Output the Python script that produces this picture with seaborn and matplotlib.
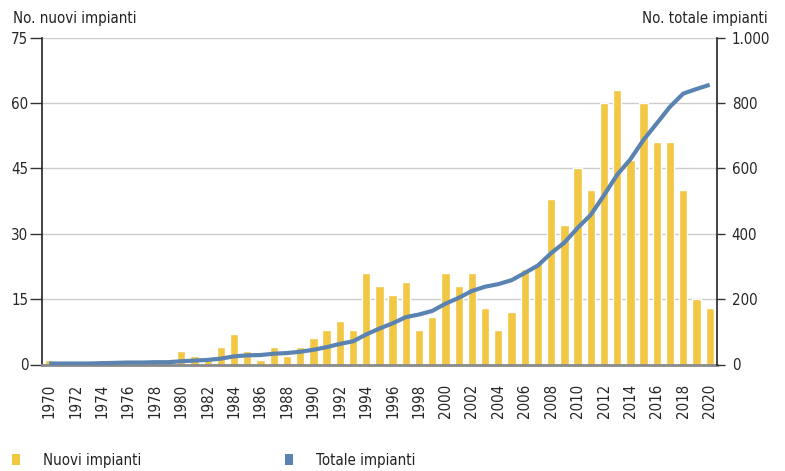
import numpy as np
import pandas as pd
import matplotlib
matplotlib.use('Agg')
import matplotlib.pyplot as plt
from matplotlib.patches import Patch
from matplotlib.ticker import FuncFormatter
import seaborn as sns

# Dati
anni = list(range(1970, 2021))
nuovi_impianti = [1, 0, 0, 0, 1, 1, 1, 0, 1, 0,
                  3, 2, 1, 4, 7, 3, 1, 4, 2, 4,
                  6, 8, 10, 8, 21, 18, 16, 19, 8, 11,
                  21, 18, 21, 13, 8, 12, 22, 23, 38, 32,
                  45, 40, 60, 63, 47, 60, 51, 51, 40, 15, 13]
totale_impianti = [3, 3, 3, 3, 4, 5, 6, 6, 7, 7,
                   10, 12, 14, 18, 25, 28, 29, 33, 35, 39,
                   45, 53, 63, 71, 92, 110, 126, 145, 153, 164,
                   186, 204, 225, 238, 246, 258, 280, 303, 341, 373,
                   418, 458, 518, 581, 628, 688, 738, 789, 829, 843, 856]

GIALLO = '#f2c744'
BLU = '#5b83b1'
FS = 10.8

sns.set_style('white')
plt.rcParams['font.family'] = ['DejaVu Sans']
plt.rcParams['font.stretch'] = 'condensed'
plt.rcParams['font.size'] = FS
plt.rcParams['text.color'] = '#222222'

df = pd.DataFrame({'anno': [str(a) for a in anni],
                   'pos': np.arange(len(anni)),
                   'nuovi': nuovi_impianti,
                   'totale': totale_impianti})

fig = plt.figure(figsize=(7.85, 4.71), dpi=100)
ax = fig.add_axes([42.3 / 785, (471 - 364.5) / 471, (716.7 - 42.3) / 785, (364.5 - 37.7) / 471])

sns.barplot(data=df, x='anno', y='nuovi', color=GIALLO, saturation=1,
            width=0.63, ax=ax, zorder=2)
ax.set_xlim(-0.52, len(anni) - 0.47)
ax.set_ylim(0, 75)
ax.set_yticks(range(0, 76, 15))
ax.set_xlabel('')
ax.set_ylabel('')
ax.yaxis.grid(True, color='#cccccc', linewidth=1)
ax.set_axisbelow(True)

# etichette ogni 2 anni, tacche tra le barre
ax.set_xticks(df['pos'][::2])
ax.set_xticklabels(df['anno'][::2], rotation=90)
ax.set_xticks(np.arange(-0.5, len(anni), 1), minor=True)
ax.tick_params(axis='x', which='major', length=0, pad=13.7, labelsize=FS)
ax.tick_params(axis='x', which='minor', length=8.5, width=1, color='#333333', direction='out')
ax.tick_params(axis='y', length=8.6, width=1, color='#333333', pad=1.5, labelsize=FS, direction='out')

for s in ['top', 'right']:
    ax.spines[s].set_visible(False)
ax.spines['left'].set_color('#222222')
ax.spines['left'].set_linewidth(1.2)
ax.spines['bottom'].set_color('#8a8a8a')
ax.spines['bottom'].set_linewidth(2)

# asse destro: totale cumulato
ax2 = ax.twinx()
sns.lineplot(data=df, x='pos', y='totale', color=BLU, linewidth=3, ax=ax2)
ax2.lines[0].set_solid_capstyle('butt')
ax2.set_ylim(0, 1000)
ax2.set_yticks(range(0, 1001, 200))
ax2.yaxis.set_major_formatter(FuncFormatter(lambda v, p: f'{int(v):,}'.replace(',', '.')))
ax2.set_ylabel('')
ax2.set_xlabel('')
ax2.grid(False)
for s in ['top', 'left', 'bottom']:
    ax2.spines[s].set_visible(False)
ax2.spines['right'].set_color('#222222')
ax2.spines['right'].set_linewidth(1.2)
ax2.tick_params(axis='y', length=6, width=1, color='#333333', pad=4.8, labelsize=FS, direction='out')
ax2.set_xlim(ax.get_xlim())

fig.text(13 / 785, 1 - 19 / 471, 'No. nuovi impianti', va='center', ha='left', fontsize=FS)
fig.text(768 / 785, 1 - 19 / 471, 'No. totale impianti', va='center', ha='right', fontsize=FS)

maniglie = [Patch(facecolor=GIALLO, edgecolor='none', label='Nuovi impianti'),
            Patch(facecolor=BLU, edgecolor='none', label='Totale impianti')]
fig.legend(handles=maniglie, loc='center left', bbox_to_anchor=(12 / 785, 1 - 460 / 471),
           bbox_transform=fig.transFigure, ncol=2, frameon=False, borderpad=0,
           borderaxespad=0, handlelength=0.55, handleheight=0.75, handletextpad=1.5,
           columnspacing=9.6, fontsize=FS)

fig.savefig('out.png', dpi=100)
